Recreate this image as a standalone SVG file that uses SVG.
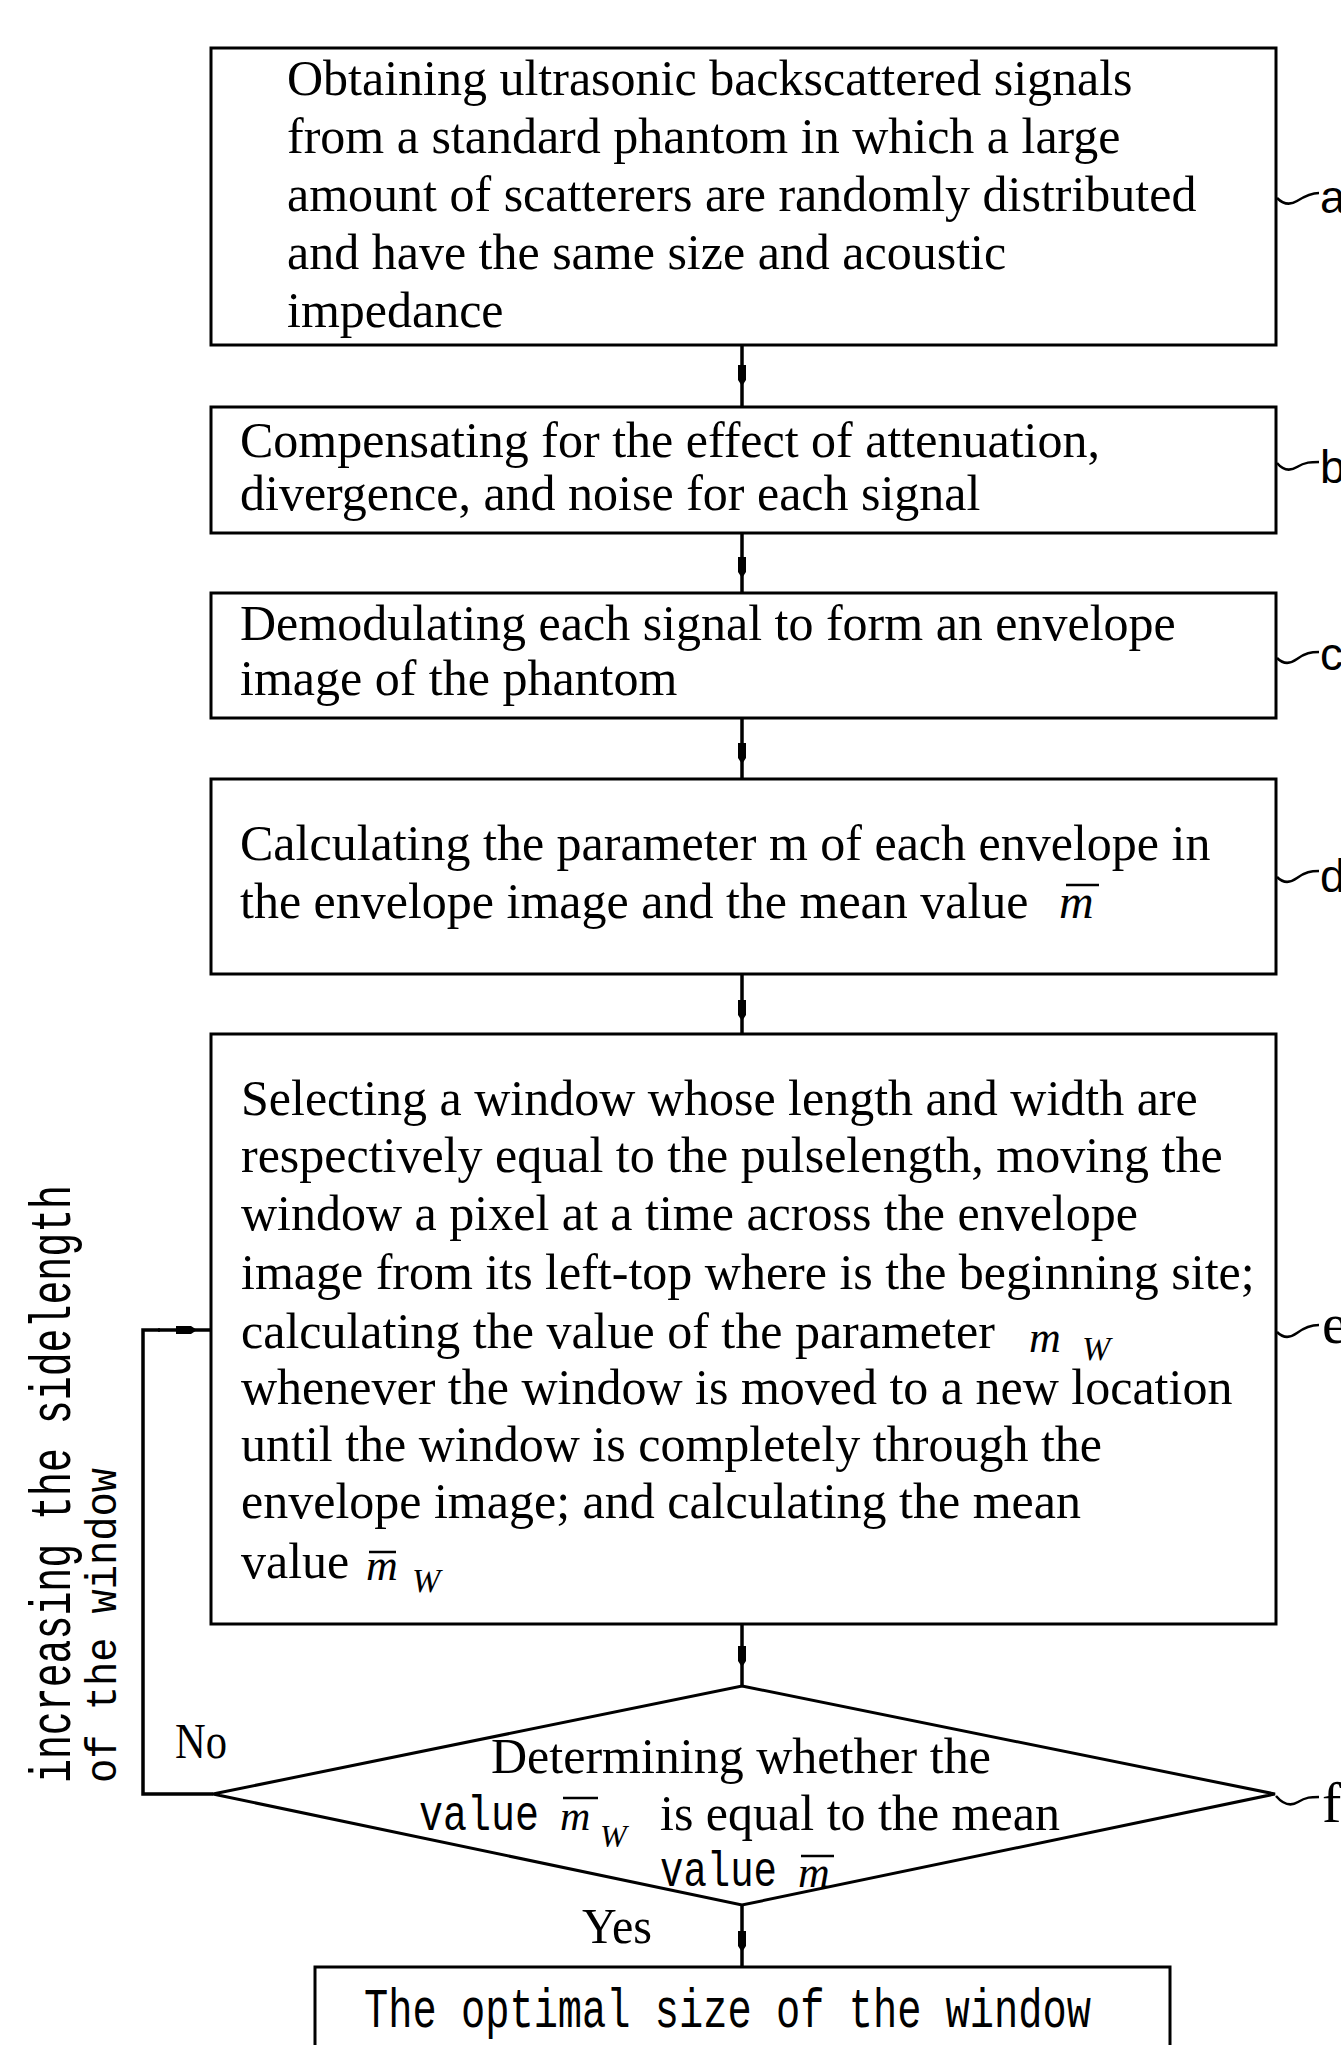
<svg xmlns="http://www.w3.org/2000/svg" width="1341" height="2045" viewBox="0 0 1341 2045">
<style>
.bg{fill:#fff}
.box{fill:#fff;stroke:#000;stroke-width:3}
.ln{fill:none;stroke:#000;stroke-width:3.5}
.ld{fill:none;stroke:#000;stroke-width:2.5}
.bar{stroke:#000;stroke-width:2.5}
.t{font-family:"Liberation Serif","Times New Roman",serif;font-size:50px;fill:#000}
.it{font-family:"Liberation Serif","Times New Roman",serif;font-style:italic;fill:#000}
.mono{font-family:"Liberation Mono","Courier New",monospace;fill:#000}
.lab{font-family:"Liberation Sans",Arial,sans-serif;font-size:46px;fill:#000}
.labs{font-family:"Liberation Serif","Times New Roman",serif;font-size:58px;fill:#000}
</style>
<defs>
<marker id="mk" viewBox="-12 -6 24 12" markerWidth="24" markerHeight="12" refX="0" refY="0" orient="auto" markerUnits="userSpaceOnUse">
<path d="M-10,-4 L5,-4 L11,0 L5,4 L-10,4 Z" fill="#000"/>
</marker>
</defs>
<rect class="bg" x="0" y="0" width="1341" height="2045"/>

<g id="connectors">
<path class="ln" d="M742,345 L742,375 L742,407" marker-mid="url(#mk)"/>
<path class="ln" d="M742,533 L742,567 L742,593" marker-mid="url(#mk)"/>
<path class="ln" d="M742,718 L742,753 L742,779" marker-mid="url(#mk)"/>
<path class="ln" d="M742,974 L742,1010 L742,1034" marker-mid="url(#mk)"/>
<path class="ln" d="M742,1624 L742,1656 L742,1686" marker-mid="url(#mk)"/>
<path class="ln" d="M742,1905 L742,1941 L742,1967" marker-mid="url(#mk)"/>
<path class="ln" d="M213,1794 L143,1794 L143,1330 L160,1330"/>
<path class="ln" d="M158,1330 L186,1330 L211,1330" marker-mid="url(#mk)"/>
<path class="ld" d="M1277,198 C1282,203 1289,206 1297,201 S1311,193 1319,193"/>
<path class="ld" d="M1277,463 C1282,469 1289,472 1297,467 S1311,462 1319,462"/>
<path class="ld" d="M1277,658 C1282,663 1289,665 1297,659 S1311,652 1319,652"/>
<path class="ld" d="M1277,877 C1282,882 1289,884 1297,878 S1311,871 1319,871"/>
<path class="ld" d="M1277,1332 C1282,1337 1289,1339 1297,1333 S1311,1325 1319,1325"/>
<path class="ld" d="M1276,1796 C1282,1803 1290,1807 1298,1802 S1311,1797 1319,1797"/>
</g>

<g id="node-a">
<rect class="box" x="211" y="48" width="1065" height="297"/>
<text class="t" x="287" y="95">Obtaining ultrasonic backscattered signals</text>
<text class="t" x="287" y="153">from a standard phantom in which a large</text>
<text class="t" x="287" y="211">amount of scatterers are randomly distributed</text>
<text class="t" x="287" y="269">and have the same size and acoustic</text>
<text class="t" x="287" y="327">impedance</text>
<text class="lab" x="1320" y="213">a</text>
</g>

<g id="node-b">
<rect class="box" x="211" y="407" width="1065" height="126"/>
<text class="t" x="240" y="457">Compensating for the effect of attenuation,</text>
<text class="t" x="240" y="510">divergence, and noise for each signal</text>
<text class="lab" x="1320" y="483">b</text>
</g>

<g id="node-c">
<rect class="box" x="211" y="593" width="1065" height="125"/>
<text class="t" x="240" y="640">Demodulating each signal to form an envelope</text>
<text class="t" x="240" y="695">image of the phantom</text>
<text class="lab" x="1320" y="670">c</text>
</g>

<g id="node-d">
<rect class="box" x="211" y="779" width="1065" height="195"/>
<text class="t" x="240" y="860">Calculating the parameter m of each envelope in</text>
<text class="t" x="240" y="918">the envelope image and the mean value</text>
<text class="it" x="1059" y="918" font-size="48">m</text>
<line class="bar" x1="1066" y1="885" x2="1099" y2="885"/>
<text class="lab" x="1320" y="892">d</text>
</g>

<g id="node-e">
<rect class="box" x="211" y="1034" width="1065" height="590"/>
<text class="t" x="241" y="1115">Selecting a window whose length and width are</text>
<text class="t" x="241" y="1172">respectively equal to the pulselength, moving the</text>
<text class="t" x="241" y="1230">window a pixel at a time across the envelope</text>
<text class="t" x="241" y="1289">image from its left-top where is the beginning site;</text>
<text class="t" x="241" y="1348">calculating the value of the parameter</text>
<text class="it" x="1029" y="1352" font-size="44">m</text>
<text class="it" x="1082" y="1360" font-size="34">W</text>
<text class="t" x="241" y="1404">whenever the window is moved to a new location</text>
<text class="t" x="241" y="1461">until the window is completely through the</text>
<text class="t" x="241" y="1518">envelope image; and calculating the mean</text>
<text class="t" x="241" y="1578">value</text>
<text class="it" x="366" y="1580" font-size="44">m</text>
<line class="bar" x1="369" y1="1552" x2="396" y2="1552"/>
<text class="it" x="412" y="1592" font-size="34">W</text>
<text class="labs" x="1322" y="1343">e</text>
</g>

<g id="node-f">
<polygon class="box" points="742,1686 1275,1794 742,1905 213,1794"/>
<text class="t" x="491" y="1773">Determining whether the</text>
<text class="mono" x="419" y="1830" font-size="50" textLength="120" lengthAdjust="spacingAndGlyphs">value</text>
<text class="it" x="560" y="1830" font-size="42">m</text>
<line class="bar" x1="563" y1="1798" x2="598" y2="1798"/>
<text class="it" x="600" y="1847" font-size="32">W</text>
<text class="t" x="660" y="1830">is equal to the mean</text>
<text class="mono" x="660" y="1886" font-size="50" textLength="117" lengthAdjust="spacingAndGlyphs">value</text>
<text class="it" x="798" y="1887" font-size="44">m</text>
<line class="bar" x1="801" y1="1856" x2="834" y2="1856"/>
<text class="labs" x="1322" y="1822">f</text>
</g>

<g id="label-no">
<text class="t" x="175" y="1758" textLength="52" lengthAdjust="spacingAndGlyphs">No</text>
</g>
<g id="label-yes">
<text class="t" x="582" y="1943" textLength="70" lengthAdjust="spacingAndGlyphs">Yes</text>
</g>

<g id="label-loop">
<text class="mono" transform="translate(70,1783) rotate(-90)" font-size="58" textLength="598" lengthAdjust="spacingAndGlyphs">increasing the sidelength</text>
<text class="mono" transform="translate(116,1783) rotate(-90)" font-size="44" textLength="315" lengthAdjust="spacingAndGlyphs">of the window</text>
</g>

<g id="node-g">
<rect class="box" x="315" y="1967" width="855" height="120"/>
<text class="mono" x="364" y="2027" font-size="56" textLength="727" lengthAdjust="spacingAndGlyphs">The optimal size of the window</text>
</g>
</svg>
